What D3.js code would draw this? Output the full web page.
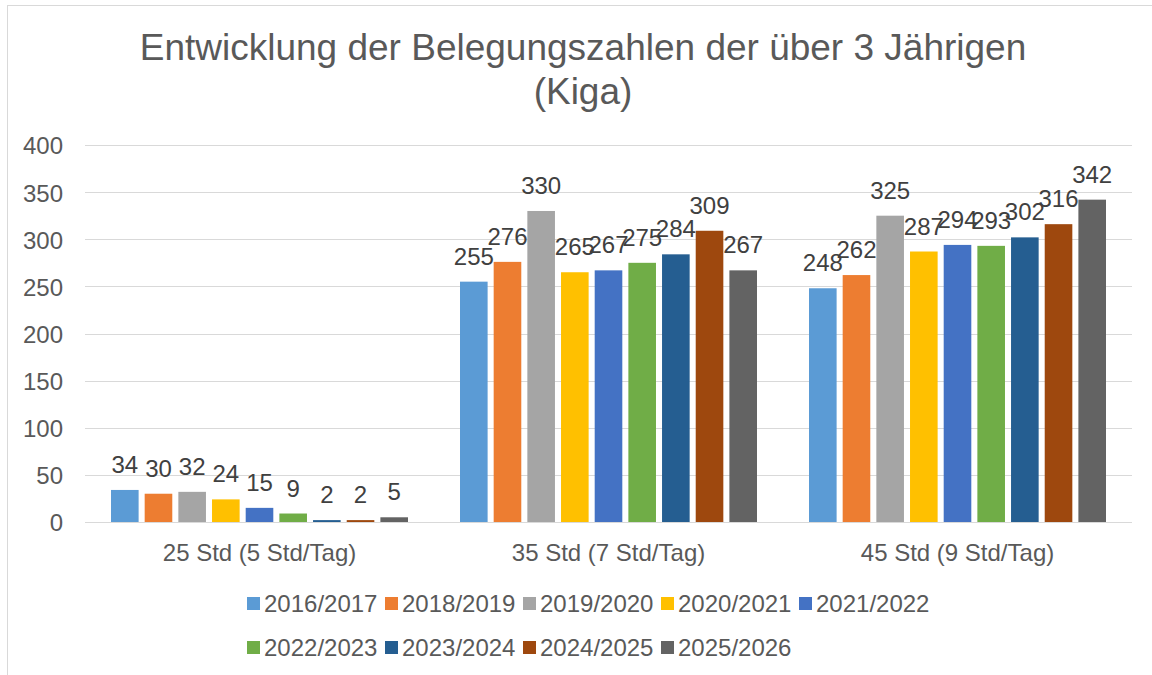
<!DOCTYPE html>
<html>
<head>
<meta charset="utf-8">
<title>Belegungszahlen</title>
<script src="https://d3js.org/d3.v7.min.js"></script>
<style>
  body { margin: 0; background: #fff; }
  text { font-family: "Liberation Sans", Arial, sans-serif; }
</style>
</head>
<body>
<div id="chart"></div>
<script>
// chart data
const categories = ['25 Std (5 Std/Tag)', '35 Std (7 Std/Tag)', '45 Std (9 Std/Tag)'];
const seriesNames = ['2016/2017', '2018/2019', '2019/2020', '2020/2021', '2021/2022',
                     '2022/2023', '2023/2024', '2024/2025', '2025/2026'];
const values25 = [34, 30, 32, 24, 15, 9, 2, 2, 5];
const values35 = [255, 276, 330, 265, 267, 275, 284, 309, 267];
const values45 = [248, 262, 325, 287, 294, 293, 302, 316, 342];
const yTicks = [0, 50, 100, 150, 200, 250, 300, 350, 400];
const colors = ['#5B9BD5', '#ED7D31', '#A5A5A5', '#FFC000', '#4472C4',
                '#70AD47', '#255E91', '#9E480E', '#636363'];

const valuesByCat = [values25, values35, values45];

const W = 1152, H = 675;
const plot = { left: 85, right: 1132, top: 145, bottom: 522 };

const svg = d3.select('#chart').append('svg')
    .attr('width', W).attr('height', H);

// outer chart border
svg.append('rect')
    .attr('x', 7.5).attr('y', 5.5)
    .attr('width', W).attr('height', H)
    .attr('fill', '#fff').attr('stroke', '#d9d9d9');

// title
svg.append('text')
    .attr('x', 583).attr('y', 60)
    .attr('text-anchor', 'middle')
    .style('font-size', '37px').attr('fill', '#595959')
    .text('Entwicklung der Belegungszahlen der über 3 Jährigen');
svg.append('text')
    .attr('x', 583).attr('y', 104)
    .attr('text-anchor', 'middle')
    .style('font-size', '37px').attr('fill', '#595959')
    .text('(Kiga)');

const y = d3.scaleLinear().domain([0, 400]).range([plot.bottom, plot.top]);
const x0 = d3.scaleBand().domain(categories).range([plot.left, plot.right]);
const x1 = d3.scaleBand().domain(seriesNames)
    .range([0, 297]).paddingInner(0.18).paddingOuter(0);

// gridlines
svg.append('g').selectAll('line')
    .data(yTicks).enter().append('line')
    .attr('x1', plot.left).attr('x2', plot.right)
    .attr('y1', d => Math.round(y(d)) + 0.5).attr('y2', d => Math.round(y(d)) + 0.5)
    .attr('stroke', '#d9d9d9').attr('stroke-width', 1);

// y axis labels
const yAxis = svg.append('g')
    .attr('transform', `translate(${plot.left - 22},0)`)
    .call(d3.axisLeft(y).tickValues(yTicks).tickSize(0).tickPadding(0));
yAxis.select('.domain').remove();
yAxis.selectAll('text')
    .attr('dy', '0.37em')
    .style('font-size', '24px').attr('fill', '#595959')
    .attr('font-family', '"Liberation Sans", Arial, sans-serif');

// bars
const groups = svg.append('g').selectAll('g')
    .data(categories).enter().append('g')
    .attr('transform', d => `translate(${x0(d) + x0.bandwidth() / 2 - 148.5},0)`);

groups.selectAll('rect')
    .data((c, i) => valuesByCat[i].map((v, j) => ({ name: seriesNames[j], v, j })))
    .enter().append('rect')
    .attr('x', d => x1(d.name))
    .attr('y', d => y(d.v))
    .attr('width', x1.bandwidth())
    .attr('height', d => y(0) - y(d.v))
    .attr('fill', d => colors[d.j]);

groups.selectAll('text')
    .data((c, i) => valuesByCat[i].map((v, j) => ({ name: seriesNames[j], v, j })))
    .enter().append('text')
    .attr('x', d => x1(d.name) + x1.bandwidth() / 2)
    .attr('y', d => y(d.v) - 17)
    .attr('text-anchor', 'middle')
    .style('font-size', '24px').attr('fill', '#404040')
    .text(d => d.v);

// x axis
const xAxis = svg.append('g')
    .attr('transform', `translate(0,${plot.bottom})`)
    .call(d3.axisBottom(x0).tickSize(0).tickPadding(22));
xAxis.select('.domain').remove();
xAxis.selectAll('text')
    .style('font-size', '24px').attr('fill', '#595959')
    .attr('font-family', '"Liberation Sans", Arial, sans-serif');

// legend
const legendRows = [seriesNames.slice(0, 5), seriesNames.slice(5)];
legendRows.forEach((row, r) => {
  row.forEach((name, k) => {
    const lx = 247 + k * 138;
    const ly = 603 + r * 44;
    svg.append('rect')
        .attr('x', lx).attr('y', ly - 6)
        .attr('width', 13).attr('height', 13)
        .attr('fill', colors[seriesNames.indexOf(name)]);
    svg.append('text')
        .attr('x', lx + 17).attr('y', ly + 9)
        .style('font-size', '24px').attr('fill', '#595959')
        .text(name);
  });
});
</script>
</body>
</html>
